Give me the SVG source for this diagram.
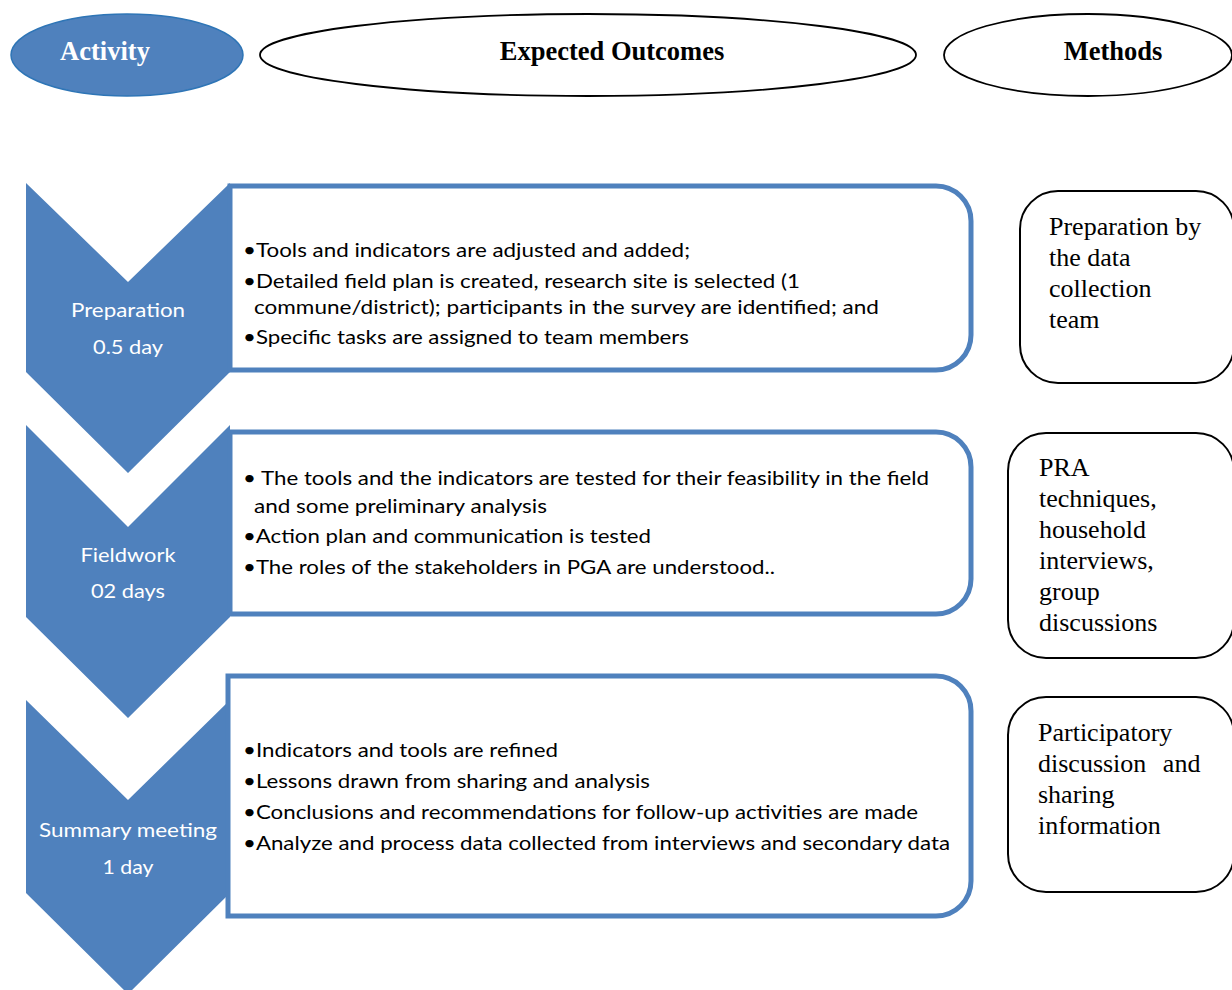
<svg xmlns="http://www.w3.org/2000/svg" width="1232" height="990" viewBox="0 0 1232 990">
<style>
.chev{fill:#4F81BD;stroke:none}
.box{fill:#FFFFFF;stroke:#4F81BD;stroke-width:5}
.mbox{fill:#FFFFFF;stroke:#000000;stroke-width:2}
.hdr{font-family:"Liberation Serif","Times New Roman",serif;font-weight:bold;font-size:26.5px;text-anchor:middle}
.lbl{font-family:Lato,"Open Sans",sans-serif;font-size:20px;fill:#FFFFFF;text-anchor:middle}
.txt{font-family:Lato,"Open Sans",sans-serif;font-size:20px;fill:#000000}
.mtxt{font-family:"Liberation Serif","Times New Roman",serif;font-size:26px;fill:#000000}
</style>
<rect x="0" y="0" width="1232" height="990" fill="#FFFFFF"/>
<g id="header-activity">
<ellipse cx="127" cy="55" rx="116" ry="41" fill="#4F81BD" stroke="#2E75B6" stroke-width="1.5"/>
<text class="hdr" x="105" y="60" fill="#FFFFFF">Activity</text>
</g>
<g id="header-outcomes">
<ellipse cx="588" cy="55" rx="328" ry="41" fill="#FFFFFF" stroke="#000000" stroke-width="1.8"/>
<text class="hdr" x="612" y="60" fill="#000000">Expected Outcomes</text>
</g>
<g id="header-methods">
<ellipse cx="1088" cy="55" rx="144" ry="41" fill="#FFFFFF" stroke="#000000" stroke-width="1.8"/>
<text class="hdr" x="1113" y="60" fill="#000000">Methods</text>
</g>
<g id="connectors"></g>
<g id="step-preparation">
<polygon class="chev" points="26,183 128,282 230,183 230,372 128,473 26,372"/>
<text class="lbl" x="128" y="317" textLength="114" lengthAdjust="spacingAndGlyphs">Preparation</text>
<text class="lbl" x="128" y="354" textLength="70" lengthAdjust="spacingAndGlyphs">0.5 day</text>
</g>
<g id="step-fieldwork">
<polygon class="chev" points="26,425 128,527 230,425 230,617 128,718 26,617"/>
<text class="lbl" x="128" y="562" textLength="95" lengthAdjust="spacingAndGlyphs">Fieldwork</text>
<text class="lbl" x="128" y="598" textLength="74" lengthAdjust="spacingAndGlyphs">02 days</text>
</g>
<g id="step-summary">
<polygon class="chev" points="26,700 128,800 230,700 230,893 128,994 26,893"/>
<text class="lbl" x="128" y="837" textLength="178" lengthAdjust="spacingAndGlyphs">Summary meeting</text>
<text class="lbl" x="128" y="874" textLength="51" lengthAdjust="spacingAndGlyphs">1 day</text>
</g>
<g id="outcomes-preparation">
<path class="box" d="M230,186 H936 A35,35 0 0 1 971,221 V335 A35,35 0 0 1 936,370 H230 Z"/>
<text class="txt" x="243" y="257" textLength="447" lengthAdjust="spacingAndGlyphs">•Tools and indicators are adjusted and added;</text>
<text class="txt" x="243" y="288" textLength="557" lengthAdjust="spacingAndGlyphs">•Detailed field plan is created, research site is selected (1</text>
<text class="txt" x="254" y="314" textLength="625" lengthAdjust="spacingAndGlyphs">commune/district); participants in the survey are identified; and</text>
<text class="txt" x="243" y="344" textLength="446" lengthAdjust="spacingAndGlyphs">•Specific tasks are assigned to team members</text>
</g>
<g id="outcomes-fieldwork">
<path class="box" d="M230,432 H936 A35,35 0 0 1 971,467 V579 A35,35 0 0 1 936,614 H230 Z"/>
<text class="txt" x="243" y="485" textLength="686" lengthAdjust="spacingAndGlyphs">• The tools and the indicators are tested for their feasibility in the field</text>
<text class="txt" x="254" y="513" textLength="293" lengthAdjust="spacingAndGlyphs">and some preliminary analysis</text>
<text class="txt" x="243" y="543" textLength="408" lengthAdjust="spacingAndGlyphs">•Action plan and communication is tested</text>
<text class="txt" x="243" y="574" textLength="532" lengthAdjust="spacingAndGlyphs">•The roles of the stakeholders in PGA are understood..</text>
</g>
<g id="outcomes-summary">
<path class="box" d="M228,676 H936 A35,35 0 0 1 971,711 V881 A35,35 0 0 1 936,916 H228 Z"/>
<text class="txt" x="243" y="757" textLength="315" lengthAdjust="spacingAndGlyphs">•Indicators and tools are refined</text>
<text class="txt" x="243" y="788" textLength="407" lengthAdjust="spacingAndGlyphs">•Lessons drawn from sharing and analysis</text>
<text class="txt" x="243" y="819" textLength="675" lengthAdjust="spacingAndGlyphs">•Conclusions and recommendations for follow-up activities are made</text>
<text class="txt" x="243" y="850" textLength="707" lengthAdjust="spacingAndGlyphs">•Analyze and process data collected from interviews and secondary data</text>
</g>
<g id="method-preparation">
<rect class="mbox" x="1020" y="191" width="214" height="192" rx="38" ry="38"/>
<text class="mtxt" x="1049" y="235">Preparation by</text>
<text class="mtxt" x="1049" y="266">the data</text>
<text class="mtxt" x="1049" y="297">collection</text>
<text class="mtxt" x="1049" y="328">team</text>
</g>
<g id="method-fieldwork">
<rect class="mbox" x="1008" y="433" width="226" height="225" rx="38" ry="38"/>
<text class="mtxt" x="1039" y="476">PRA</text>
<text class="mtxt" x="1039" y="507">techniques,</text>
<text class="mtxt" x="1039" y="538">household</text>
<text class="mtxt" x="1039" y="569">interviews,</text>
<text class="mtxt" x="1039" y="600">group</text>
<text class="mtxt" x="1039" y="631">discussions</text>
</g>
<g id="method-summary">
<rect class="mbox" x="1008" y="697" width="226" height="195" rx="38" ry="38"/>
<text class="mtxt" x="1038" y="741">Participatory</text>
<text class="mtxt" x="1038" y="772" word-spacing="10">discussion and</text>
<text class="mtxt" x="1038" y="803">sharing</text>
<text class="mtxt" x="1038" y="834">information</text>
</g>
</svg>
